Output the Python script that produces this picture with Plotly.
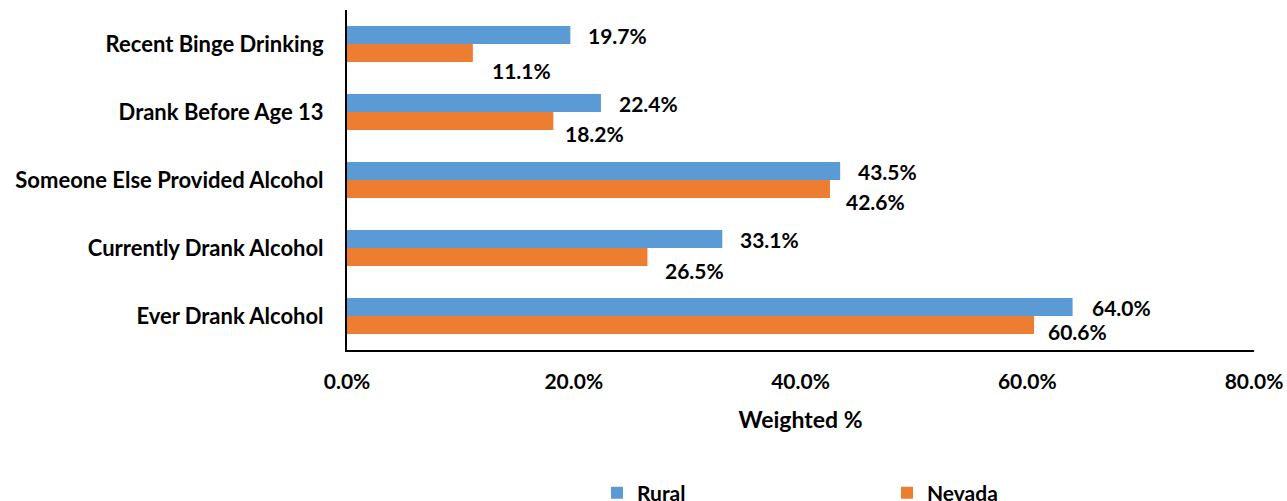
import plotly.graph_objects as go

categories = ["Recent Binge Drinking", "Drank Before Age 13", "Someone Else Provided Alcohol",
              "Currently Drank Alcohol", "Ever Drank Alcohol"]
rural = [19.7, 22.4, 43.5, 33.1, 64.0]
nevada = [11.1, 18.2, 42.6, 26.5, 60.6]
x_ticks = [0, 20, 40, 60, 80]
x_tick_labels = ["0.0%", "20.0%", "40.0%", "60.0%", "80.0%"]

# label placement tweaks (pixels), as in the original chart
rural_label_dx = [16, 16, 16, 16, 17]
nevada_label_dx = [17, 10, 14, 16, 12]
nevada_label_dy = [17, 12, 12, 13, 6]

FONT = "Lato"
BLUE = "#5B9BD5"
ORANGE = "#ED7D31"
BAR_HALF = 9  # half of bar thickness in px (for label offsets)

fig = go.Figure()
fig.add_trace(go.Bar(y=categories, x=rural, name="<b>Rural</b>", orientation="h",
                     marker=dict(color=BLUE, line=dict(width=0))))
fig.add_trace(go.Bar(y=categories, x=nevada, name="<b>Nevada</b>", orientation="h",
                     marker=dict(color=ORANGE, line=dict(width=0))))

annotations = []
for i, (cat, r, n) in enumerate(zip(categories, rural, nevada)):
    annotations.append(dict(x=r, y=cat, xref="x", yref="y", text=f"<b>{r:.1f}%</b>",
                            showarrow=False, xanchor="left", yanchor="middle",
                            xshift=rural_label_dx[i], yshift=BAR_HALF,
                            font=dict(size=21, color="black", family=FONT)))
    annotations.append(dict(x=n, y=cat, xref="x", yref="y", text=f"<b>{n:.1f}%</b>",
                            showarrow=False, xanchor="left", yanchor="middle",
                            xshift=nevada_label_dx[i], yshift=-BAR_HALF - nevada_label_dy[i],
                            font=dict(size=21, color="black", family=FONT)))

fig.update_layout(
    width=1287, height=501,
    margin=dict(l=347, r=33, t=10, b=151, autoexpand=False),
    plot_bgcolor="white", paper_bgcolor="white",
    barmode="group", bargap=0.47, bargroupgap=0,
    font=dict(family=FONT, color="black", size=21),
    annotations=annotations,
    showlegend=True,
    legend=dict(orientation="h", xref="container", yref="container",
                x=597 / 1287, xanchor="left", y=8 / 501, yanchor="middle",
                entrywidth=245, entrywidthmode="pixels",
                font=dict(size=21, family=FONT, color="black")),
    xaxis=dict(range=[0, 80], tickvals=x_ticks, ticktext=[f"<b>{t}</b>" for t in x_tick_labels],
               automargin=False,
               showgrid=False, zeroline=False, showline=True, linecolor="black", linewidth=2,
               ticks="", ticklabelstandoff=12, tickfont=dict(size=21, family=FONT),
               title=dict(text="<b>Weighted %</b>", font=dict(size=23, family=FONT), standoff=20)),
    yaxis=dict(range=[len(categories) - 0.5, -0.5], automargin=False, showgrid=False,
               zeroline=False, showline=True,
               linecolor="black", linewidth=2, ticks="", ticklabelstandoff=17,
               tickfont=dict(size=22, family=FONT),
               tickvals=categories, ticktext=[f"<b>{c}</b>" for c in categories]),
)

fig.write_html("out.html", config={"displayModeBar": False},
               post_script="document.body.style.margin='0';document.body.style.padding='0';")
